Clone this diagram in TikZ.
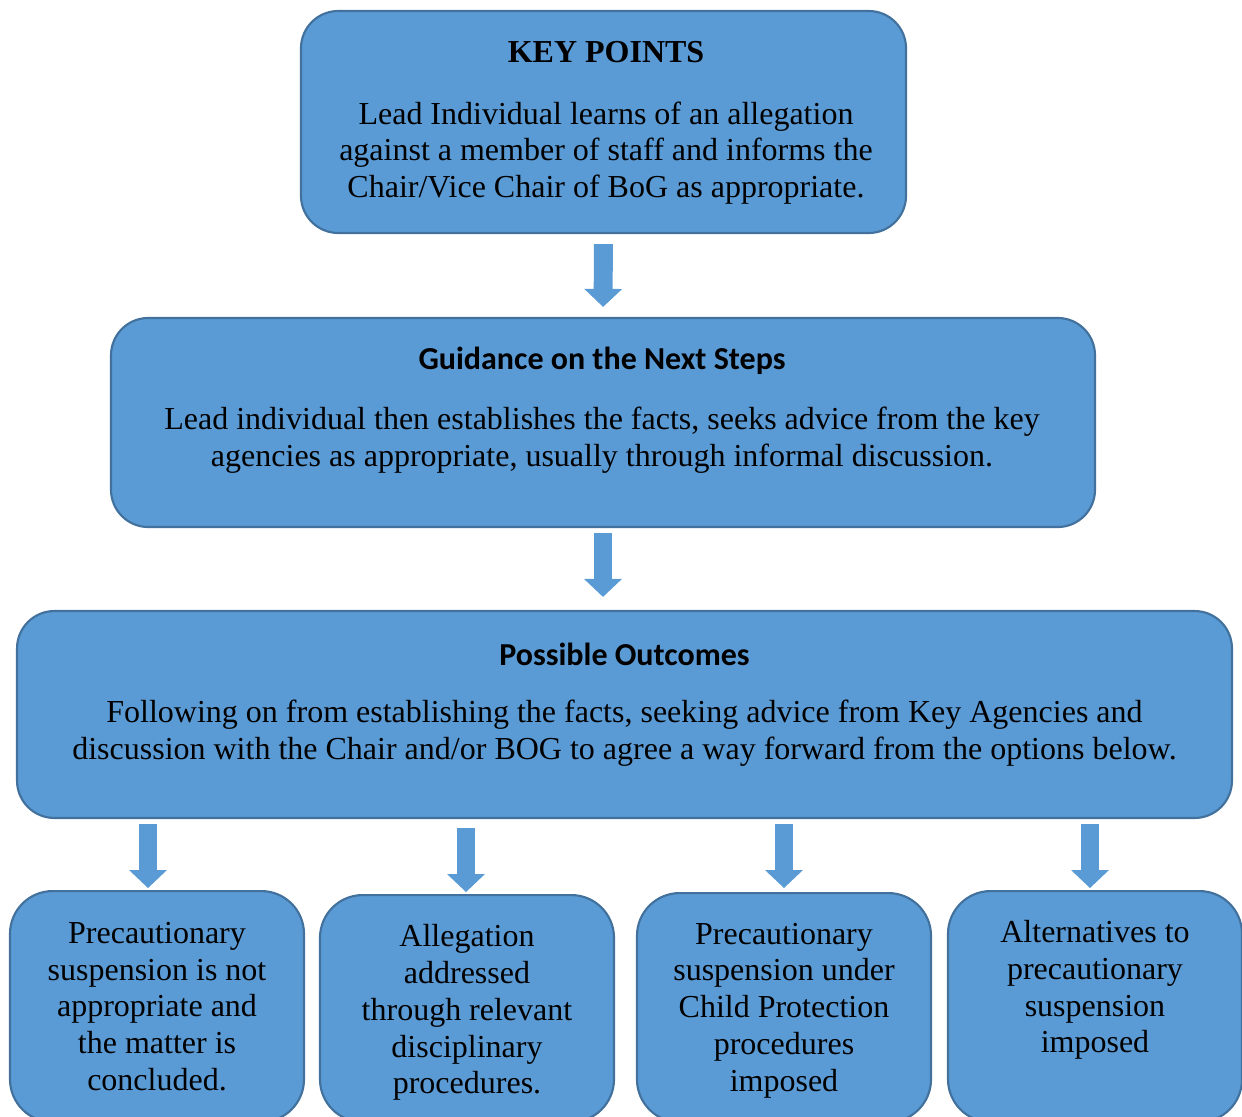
\documentclass[tikz,border=0pt]{standalone}
\usepackage{fontspec}
\setmainfont{Liberation Serif}
\newfontfamily\calibri{Carlito}
\usetikzlibrary{positioning,calc,arrows.meta}
\definecolor{boxfill}{HTML}{5B9BD5}
\definecolor{boxline}{HTML}{41719C}
\tikzset{
  box/.style={draw=boxline, line width=0.8pt, fill=boxfill,
    rounded corners=14pt, inner sep=0pt},
  outbox/.style={box, anchor=north, minimum width=110.25pt,
    rounded corners=16pt},
  head/.style={inner sep=0pt},
  body/.style={align=center, inner sep=0pt,
    font=\fontsize{12}{13.8}\selectfont},
  flow/.style={draw=boxfill, line width=7.1pt,
    -{Triangle[width=14.25pt,length=6.75pt,line width=0pt]}}
}

\begin{document}
\begin{tikzpicture}[x=0.375pt,y=-0.375pt]
  \useasboundingbox (0,0) rectangle (1242,1117);

  % main boxes
  \node[box, minimum width=226.9pt, minimum height=83.25pt] (keys) at (603.5,122) {};
  \node[head, font=\fontsize{12}{14}\selectfont\bfseries] (keyshead) at (606,52) {KEY POINTS};
  \node[body] (keystext) at (606,153)
    {Lead Individual learns of an allegation\\
     against a member of staff and informs the\\
     Chair/Vice Chair of BoG as appropriate.};

  \node[box, minimum width=369pt, minimum height=78.4pt] (guide) at (603,422.5) {};
  \node[head, font=\calibri\fontsize{12}{14}\selectfont\bfseries] (guidehead) at (602,361) {Guidance on the Next Steps};
  \node[body] (guidetext) at (602,440.5)
    {Lead individual then establishes the facts, seeks advice from the key\\
     agencies as appropriate, usually through informal discussion.};

  \node[box, minimum width=455.6pt, minimum height=77.6pt] (outcomes) at (624.5,714.5) {};
  \node[head, font=\calibri\fontsize{12}{14}\selectfont\bfseries] (outhead) at (624.5,654) {Possible Outcomes};
  \node[body] (outtext) at (624.5,733.5)
    {Following on from establishing the facts, seeking advice from Key Agencies and\\
     discussion with the Chair and/or BOG to agree a way forward from the options below.};

  % the four options
  \node[outbox, minimum height=86.6pt] (optA) at (157,890) {};
  \node[outbox, minimum height=85.1pt] (optB) at (467,894) {};
  \node[outbox, minimum height=85.9pt] (optC) at (784,892) {};
  \node[outbox, minimum height=86.6pt] (optD) at (1095,890) {};

  \node[body] (optAtext) at (157,1006.5)
    {Precautionary\\suspension is not\\appropriate and\\the matter is\\concluded.};
  \node[body] (optBtext) at (467,1012.5)
    {Allegation\\addressed\\through relevant\\disciplinary\\procedures.};
  \node[body] (optCtext) at (784,1010.5)
    {Precautionary\\suspension under\\Child Protection\\procedures\\imposed};
  \node[body] (optDtext) at (1095,990)
    {Alternatives to\\precautionary\\suspension\\imposed};

  % block arrows
  \draw[flow, shorten <=3.75pt, shorten >=3.75pt] (keys.south) -- (guide.north);
  \draw[flow, shorten <=1.9pt, shorten >=4.9pt] (guide.south) -- (guide.south |- outcomes.north);
  \draw[flow, shorten <=1.9pt, shorten >=0.75pt] ($(outcomes.south -| optA.north)+(-9,0)$) -- ($(optA.north)+(-9,0)$);
  \draw[flow, shorten <=3.4pt, shorten >=0.75pt] ($(outcomes.south -| optB.north)+(-1,0)$) -- ($(optB.north)+(-1,0)$);
  \draw[flow, shorten <=1.9pt, shorten >=1.5pt] (outcomes.south -| optC.north) -- (optC.north);
  \draw[flow, shorten <=1.9pt, shorten >=0.75pt] ($(outcomes.south -| optD.north)+(-5,0)$) -- ($(optD.north)+(-5,0)$);
\end{tikzpicture}
\end{document}
